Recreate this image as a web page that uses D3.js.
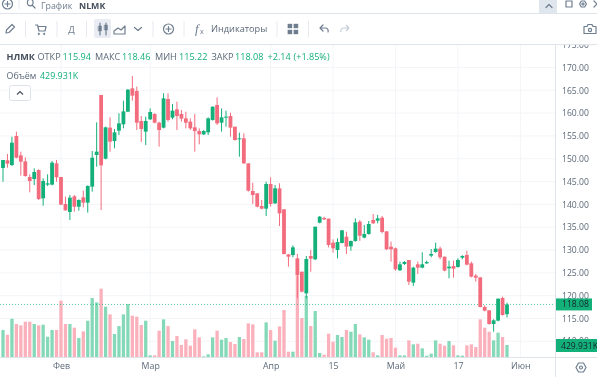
<!DOCTYPE html>
<html>
<head>
<meta charset="utf-8">
<script src="https://cdn.jsdelivr.net/npm/d3@7"></script>
<style>
html, body { margin: 0; padding: 0; background: #fff; overflow: hidden; }
svg { display: block; font-family: "Open Sans", sans-serif; filter: blur(0.35px); }
</style>
</head>
<body>
<div id="canvas"></div>
<script>
"use strict"

/*Size of the canvas*/
let svgWidth = 597;
let svgHeight = 377;

/*Where the panes are*/
let axisX = 555;
let toolbarBottom = 44;
let timeAxisY = 357;

/*Colours*/
let upColor = "#14b07a";
let downColor = "#f26c7e";
let upVolume = "#86d9b8";
let downVolume = "#fbb1bc";
let gridColor = "#f3f5f8";
let lineColor = "#dfe4ea";
let textColor = "#5b6878";
let iconColor = "#6f7e8f";

/*Candles, one value per trading day*/
let opens = [147.98, 149.66, 148.63, 154.99, 150.75, 149.44, 146.01, 145.57, 147.54, 141.33,
    144.33, 144.33, 149.00, 146.01, 140.09, 138.34, 141.77, 139.50, 141.55, 140.38,
    143.89, 150.83, 163.97, 150.02, 156.82, 153.89, 156.16, 157.55, 160.32, 165.43,
    164.85, 158.28, 155.94, 158.64, 159.81, 157.91, 156.82, 163.10, 159.01, 160.83,
    159.81, 158.86, 158.13, 156.89, 156.08, 155.35, 155.79, 158.50, 161.78, 157.91,
    159.01, 159.37, 157.03, 154.26, 154.48, 149.00, 142.94, 142.43, 139.65, 139.07,
    144.47, 140.24, 143.52, 138.92, 129.06, 128.91, 128.18, 125.26, 120.52, 128.70,
    127.97, 136.00, 137.02, 136.88, 131.62, 130.01, 131.54, 132.93, 130.81, 131.98,
    136.22, 132.72, 133.52, 136.59, 136.44, 137.10, 134.10, 130.74, 130.38, 125.56,
    126.95, 127.82, 122.86, 126.87, 126.14, 127.09, 128.77, 129.58, 130.31, 128.55,
    126.00, 126.51, 126.29, 128.33, 128.92, 127.09, 124.39, 124.02, 117.52, 116.79,
    113.80, 114.53, 119.50, 115.94];

let highs = [149.73, 151.05, 154.84, 155.94, 151.56, 150.31, 146.59, 147.90, 147.69, 145.71,
    146.59, 149.51, 149.73, 146.01, 141.70, 142.06, 142.06, 141.11, 143.01, 144.18,
    151.70, 157.98, 163.97, 157.03, 159.08, 156.52, 159.96, 162.73, 165.29, 168.14,
    165.80, 159.37, 159.23, 161.05, 159.96, 158.13, 164.34, 164.34, 162.00, 162.51,
    160.69, 160.32, 158.86, 159.81, 156.67, 156.30, 159.08, 161.42, 163.46, 161.05,
    160.54, 160.10, 157.03, 155.72, 155.57, 149.00, 144.76, 142.43, 140.97, 144.98,
    145.93, 144.25, 144.62, 138.92, 129.06, 131.03, 129.13, 125.26, 128.70, 130.01,
    135.12, 137.46, 137.31, 136.88, 132.35, 132.57, 134.39, 134.03, 132.06, 136.95,
    136.58, 135.49, 136.37, 137.90, 137.68, 137.46, 134.10, 131.84, 130.53, 127.46,
    127.60, 127.82, 126.36, 127.46, 129.50, 127.68, 130.23, 131.62, 130.74, 128.55,
    127.68, 127.68, 128.19, 128.85, 129.87, 127.46, 124.76, 124.02, 117.89, 116.79,
    114.82, 119.35, 119.79, 118.46];

let lows = [144.98, 148.05, 148.42, 150.10, 146.30, 146.08, 142.65, 144.25, 140.97, 139.72,
    144.03, 144.18, 144.98, 139.87, 138.63, 136.58, 138.41, 138.63, 139.36, 138.19,
    142.79, 148.27, 138.77, 149.88, 151.56, 152.29, 155.21, 156.67, 160.25, 162.73,
    156.30, 153.67, 153.02, 158.50, 157.76, 152.65, 156.67, 158.13, 158.64, 156.30,
    158.13, 156.67, 156.30, 151.56, 153.16, 155.21, 155.21, 158.35, 157.40, 155.94,
    157.03, 154.84, 153.97, 150.46, 148.85, 142.79, 140.09, 139.36, 138.92, 137.46,
    139.51, 140.09, 135.27, 129.06, 126.36, 128.40, 119.42, 120.73, 119.42, 125.26,
    127.82, 135.85, 136.58, 130.59, 129.43, 128.18, 131.47, 129.13, 129.86, 131.84,
    132.00, 132.57, 133.37, 135.71, 135.86, 133.67, 130.01, 127.46, 125.49, 125.41,
    126.73, 122.34, 122.13, 124.76, 126.00, 126.95, 128.41, 129.43, 127.97, 125.34,
    123.81, 123.95, 126.14, 127.97, 126.65, 124.02, 123.08, 117.45, 116.57, 113.65,
    112.12, 114.38, 115.63, 115.22];

let closes = [149.73, 148.93, 153.53, 150.24, 149.37, 146.22, 145.13, 147.10, 141.18, 145.13,
    144.62, 149.15, 145.93, 139.94, 138.70, 141.48, 139.50, 140.97, 140.38, 144.03,
    150.24, 151.56, 148.56, 156.89, 153.75, 155.79, 157.76, 160.39, 165.14, 163.83,
    157.91, 156.52, 158.28, 160.25, 157.91, 156.30, 163.24, 158.50, 160.54, 159.37,
    158.79, 157.91, 156.67, 156.08, 155.35, 156.08, 158.86, 161.42, 157.76, 159.08,
    159.23, 156.82, 154.11, 154.48, 149.00, 143.01, 142.06, 139.50, 139.07, 144.47,
    140.09, 143.52, 138.04, 129.13, 128.55, 130.59, 124.46, 120.88, 128.04, 128.11,
    135.12, 137.31, 136.73, 131.11, 130.38, 131.76, 134.32, 130.74, 131.98, 136.07,
    133.15, 133.52, 135.71, 135.86, 136.95, 133.96, 130.16, 130.16, 125.78, 126.87,
    127.38, 123.08, 126.14, 126.14, 126.87, 127.38, 129.14, 130.31, 128.41, 125.49,
    126.36, 125.92, 127.82, 128.70, 126.80, 124.17, 123.95, 117.52, 116.72, 113.80,
    114.60, 119.35, 115.77, 118.08];

/*Volume per day, in thousands*/
let volumes = [967, 800, 1373, 1182, 1134, 1266, 1266, 1182, 1134, 1158,
    728, 967, 967, 2018, 1182, 1182, 1051, 681, 919, 1301,
    2113, 1958, 2448, 1803, 1528, 824, 1110, 1528, 1898, 1481,
    1445, 1146, 1301, 60, 60, 943, 1349, 1110, 573, 752,
    430, 633, 406, 991, 704, 24, 96, 704, 943, 621,
    681, 537, 466, 716, 645, 1206, 1170, 167, 167, 1242,
    967, 585, 1098, 1684, 191, 191, 2902, 1397, 2186, 1110,
    1648, 143, 84, 836, 549, 788, 716, 967, 907, 1182,
    812, 704, 621, 167, 60, 788, 657, 681, 334, 60,
    60, 597, 454, 478, 310, 48, 119, 597, 478, 406,
    573, 418, 60, 48, 418, 454, 358, 1349, 1051, 907,
    597, 872, 716, 429.931];

/*Axis labels*/
let priceTicks = [115, 120, 125, 130, 135, 140, 145, 150, 155, 160, 165, 170, 175];
let gridPrices = [110, 115, 120, 125, 130, 135, 140, 145, 150, 155, 160, 165, 170, 175];
let timeTicks = [13, 33, 60, 74, 88, 102, 116];
let timeLabels = ["Фев", "Мар", "Апр", "15", "Май", "17", "Июн"];

/*The legend line at the top of the chart*/
let legendTexts = ["НЛМК", "ОТКР", "115.94", "МАКС", "118.46", "МИН", "115.22", "ЗАКР", "118.08", "+2.14", "(+1.85%)"];
let legendX = [6.5, 37.5, 62.5, 95, 122, 155, 179, 211.5, 235, 267.5, 293.5];

let lastIndex = opens.length - 1;

/*The canvas*/
let svg = d3.select("#canvas")
    .append("svg")
    .attr("width", svgWidth)
    .attr("height", svgHeight);

/*Scales*/
let xScale = d3.scaleLinear()
    .domain([0, lastIndex])
    .range([3, 507]);

let yScale = d3.scaleLinear()
    .domain([115, 170])
    .range([318.5, 67.5]);

let volumeScale = d3.scaleLinear()
    .domain([0, 3000])
    .range([timeAxisY, timeAxisY - 83.7]);

/*Grid*/
svg.append("g").selectAll("line")
    .data(gridPrices)
    .join("line")
    .attr("x1", 0)
    .attr("x2", axisX)
    .attr("y1", function (value) { return yScale(value); })
    .attr("y2", function (value) { return yScale(value); })
    .attr("stroke", gridColor);

svg.append("g").selectAll("line")
    .data(timeTicks)
    .join("line")
    .attr("x1", function (value) { return xScale(value); })
    .attr("x2", function (value) { return xScale(value); })
    .attr("y1", toolbarBottom)
    .attr("y2", timeAxisY)
    .attr("stroke", gridColor);

/*Volume bars*/
let barWidth = 3.3;
svg.append("g").selectAll("rect")
    .data(volumes)
    .join("rect")
    .attr("x", function (value, i) { return xScale(i) - barWidth / 2; })
    .attr("width", barWidth)
    .attr("y", function (value) { return volumeScale(value); })
    .attr("height", function (value) { return timeAxisY - volumeScale(value); })
    .attr("fill", function (value, i) {
        return closes[i] >= opens[i] ? upVolume : downVolume;
    });

/*Last price line*/
svg.append("line")
    .attr("x1", 0)
    .attr("x2", axisX)
    .attr("y1", yScale(closes[lastIndex]))
    .attr("y2", yScale(closes[lastIndex]))
    .attr("stroke", upColor)
    .attr("stroke-opacity", 0.7)
    .attr("stroke-dasharray", "1,2");

/*Candles*/
let candles = svg.append("g").selectAll("g")
    .data(opens)
    .join("g");

candles.append("line")
    .attr("x1", function (value, i) { return xScale(i); })
    .attr("x2", function (value, i) { return xScale(i); })
    .attr("y1", function (value, i) { return yScale(highs[i]); })
    .attr("y2", function (value, i) { return yScale(lows[i]); })
    .attr("stroke", function (value, i) {
        return closes[i] >= opens[i] ? upColor : downColor;
    })
    .attr("stroke-width", 1);

let candleWidth = 3.8;
candles.append("rect")
    .attr("x", function (value, i) { return xScale(i) - candleWidth / 2; })
    .attr("width", candleWidth)
    .attr("y", function (value, i) { return yScale(Math.max(opens[i], closes[i])); })
    .attr("height", function (value, i) {
        return Math.max(1, Math.abs(yScale(opens[i]) - yScale(closes[i])));
    })
    .attr("fill", function (value, i) {
        return closes[i] >= opens[i] ? upColor : downColor;
    });

/*Price axis with the white pane behind it*/
svg.append("rect")
    .attr("x", axisX)
    .attr("y", toolbarBottom)
    .attr("width", svgWidth - axisX)
    .attr("height", svgHeight - toolbarBottom)
    .attr("fill", "white");

let priceAxis = svg.append("g")
    .attr("transform", "translate(" + axisX + ",0)")
    .call(d3.axisRight(yScale).tickValues(priceTicks).tickSize(0).tickPadding(7).tickFormat(d3.format(".2f")));
priceAxis.select(".domain").remove();
priceAxis.selectAll("text")
    .style("font-family", "'Open Sans', sans-serif")
    .style("font-size", "8.6px")
    .attr("fill", textColor);

/*110.00 is mostly hidden by the volume tag*/
svg.append("text")
    .attr("x", 562)
    .attr("y", yScale(110) + 3)
    .style("font-size", "8.6px")
    .attr("fill", textColor)
    .text("110.00");

/*Tags for the last price and the last volume*/
svg.append("rect")
    .attr("x", axisX)
    .attr("y", yScale(closes[lastIndex]) - 6)
    .attr("width", 37)
    .attr("height", 12)
    .attr("fill", upColor);

svg.append("text")
    .attr("x", 562)
    .attr("y", yScale(closes[lastIndex]) + 3)
    .style("font-size", "8.6px")
    .attr("fill", "#14212b")
    .text(d3.format(".2f")(closes[lastIndex]));

svg.append("rect")
    .attr("x", axisX)
    .attr("y", 339)
    .attr("width", svgWidth - axisX)
    .attr("height", 13)
    .attr("fill", upColor);

svg.append("text")
    .attr("x", 561)
    .attr("y", 349)
    .style("font-size", "8.6px")
    .attr("fill", "#14212b")
    .text(volumes[lastIndex] + "K");

/*Time axis*/
svg.append("rect")
    .attr("x", 0)
    .attr("y", timeAxisY)
    .attr("width", svgWidth)
    .attr("height", svgHeight - timeAxisY)
    .attr("fill", "white");

let timeAxis = svg.append("g")
    .attr("transform", "translate(0," + timeAxisY + ")")
    .call(d3.axisBottom(xScale).tickValues(timeTicks).tickSize(0).tickPadding(6)
        .tickFormat(function (value, i) { return timeLabels[i]; }));
timeAxis.select(".domain").remove();
timeAxis.selectAll("text")
    .style("font-family", "'Open Sans', sans-serif")
    .style("font-size", "8.8px")
    .attr("fill", textColor);

svg.append("line")
    .attr("x1", 0)
    .attr("x2", svgWidth)
    .attr("y1", timeAxisY + 0.5)
    .attr("y2", timeAxisY + 0.5)
    .attr("stroke", lineColor);

svg.append("line")
    .attr("x1", axisX + 0.5)
    .attr("x2", axisX + 0.5)
    .attr("y1", toolbarBottom)
    .attr("y2", svgHeight)
    .attr("stroke", lineColor);

/*Legend*/
let legend = svg.append("g");
legend.selectAll("text")
    .data(legendTexts)
    .join("text")
    .attr("x", function (value, i) { return legendX[i]; })
    .attr("y", 60)
    .style("font-size", "9.1px")
    .style("font-weight", function (value, i) { return i == 0 ? "700" : "400"; })
    .attr("fill", function (value, i) {
        if (i == 0) {
            return "#46505e";
        }
        else if (i % 2 == 1 && i < 9) {
            return textColor;
        }
        return upColor;
    })
    .text(function (value) { return value; });

svg.append("text")
    .attr("x", 6.5)
    .attr("y", 78.5)
    .style("font-size", "8.9px")
    .attr("fill", textColor)
    .text("Объём");

svg.append("text")
    .attr("x", 40)
    .attr("y", 78.5)
    .style("font-size", "8.9px")
    .attr("fill", upColor)
    .text(volumes[lastIndex] + "K");

/*The small collapse button*/
svg.append("rect")
    .attr("x", 9.5)
    .attr("y", 85.5)
    .attr("width", 21)
    .attr("height", 15)
    .attr("rx", 2)
    .attr("fill", "white")
    .attr("stroke", "#dde2e8");

svg.append("path")
    .attr("d", "M17 94.5 L20 91.5 L23 94.5")
    .attr("fill", "none")
    .attr("stroke", "#46505e")
    .attr("stroke-width", 1.2);

/*Toolbar*/
svg.append("rect")
    .attr("width", svgWidth)
    .attr("height", toolbarBottom)
    .attr("fill", "white");

svg.append("rect")
    .attr("x", 94)
    .attr("y", 19)
    .attr("width", 17)
    .attr("height", 19)
    .attr("rx", 2)
    .attr("fill", "#e9edf3");

svg.append("rect")
    .attr("x", 539)
    .attr("y", 0)
    .attr("width", 18)
    .attr("height", 13)
    .attr("fill", "#dfe6ee");

let rules = [13.5, 44.5];
svg.append("g").selectAll("line")
    .data(rules)
    .join("line")
    .attr("x1", 0)
    .attr("x2", svgWidth)
    .attr("y1", function (value) { return value; })
    .attr("y2", function (value) { return value; })
    .attr("stroke", lineColor);

let separators = [25.5, 57, 86.5, 153, 184, 277, 308.5];
svg.append("g").selectAll("line")
    .data(separators)
    .join("line")
    .attr("x1", function (value) { return value; })
    .attr("x2", function (value) { return value; })
    .attr("y1", 21)
    .attr("y2", 37)
    .attr("stroke", "#e6eaef");

svg.append("line")
    .attr("x1", 19)
    .attr("x2", 19)
    .attr("y1", 0)
    .attr("y2", 9)
    .attr("stroke", "#e6eaef");

/*Icons, each one a path around its own centre*/
function drawIcon(x, y, path, filled) {
    svg.append("path")
        .attr("transform", "translate(" + x + "," + y + ")")
        .attr("d", path)
        .attr("fill", filled ? iconColor : "none")
        .attr("stroke", iconColor)
        .attr("stroke-width", filled ? 0.4 : 1.2)
        .attr("stroke-linecap", "round")
        .attr("stroke-linejoin", "round");
}

let circlePlus = "M-5 0 A5 5 0 1 0 5 0 A5 5 0 1 0 -5 0 M-2.5 0 H2.5 M0 -2.5 V2.5";
let chevronDown = "M-3.5 -1.5 L0 1.5 L3.5 -1.5";

drawIcon(7.5, 4, circlePlus, false);
drawIcon(31, 4, "M-3.5 -1.5 A2.8 2.8 0 1 0 2 -1.5 A2.8 2.8 0 1 0 -3.5 -1.5 M1 1 L4 4", false);
drawIcon(10, 29, "M-4 4 L-3.5 1 L2 -4.5 L4.5 -2 L-1 3.5 Z", false);
drawIcon(41, 29, "M-5.5 -4 H-3.5 L-2 2 H4 L5 -2.5 H-3", false);
drawIcon(41, 29, "M-2.2 4 A0.9 0.9 0 1 0 -2.19 4 M3.2 4 A0.9 0.9 0 1 0 3.21 4", true);
drawIcon(103, 29, "M-3 -6 V6 M3 -6 V6", false);
drawIcon(103, 29, "M-4.5 -3 H-1.5 V2 H-4.5 Z M1.5 -4 H4.5 V1 H1.5 Z", true);
drawIcon(120, 29, "M-6 5 V2 L-2 -1 L1 1 L5 -3 V5 Z", false);
drawIcon(138, 29, chevronDown, false);
drawIcon(168.5, 29, circlePlus, false);
drawIcon(293, 29, "M-5 -5 H-1 V-1 H-5 Z M1 -5 H5 V-1 H1 Z M-5 1 H-1 V5 H-5 Z M1 1 H5 V5 H1 Z", true);
drawIcon(324, 29, "M-4 -1 L-1 -4 M-4 -1 L-1 2 M-4 -1 H2 A3 3 0 0 1 4 3", false);
svg.append("path")
    .attr("transform", "translate(345,29)")
    .attr("d", "M4 -1 L1 -4 M4 -1 L1 2 M4 -1 H-2 A3 3 0 0 0 -4 3")
    .attr("fill", "none")
    .attr("stroke", "#c5ced8")
    .attr("stroke-width", 1.2);
drawIcon(590, 29, "M-6 -2.5 H-3 L-2 -4.5 H2 L3 -2.5 H6 V4.5 H-6 Z M-1.6 1 A1.6 1.6 0 1 0 1.6 1 A1.6 1.6 0 1 0 -1.6 1", false);
drawIcon(549, 6, "M-3 1.5 L0 -1.5 L3 1.5", false);
drawIcon(569, 4, "M-3 -3 H3 V3 H-3 Z", false);
drawIcon(583, 4, "M-3.4 0 L-1.7 -3 H1.7 L3.4 0 L1.7 3 H-1.7 Z M-1 0 A1 1 0 1 0 1 0 A1 1 0 1 0 -1 0", false);
drawIcon(597, 4, "M-3 -3 L3 3 M-3 3 L3 -3", false);
drawIcon(581, 367.5, "M-5 0 L-2.5 -4.5 H2.5 L5 0 L2.5 4.5 H-2.5 Z M-1.5 0 A1.5 1.5 0 1 0 1.5 0 A1.5 1.5 0 1 0 -1.5 0", false);

/*Toolbar texts*/
svg.append("text")
    .attr("x", 41)
    .attr("y", 8.8)
    .style("font-size", "8.8px")
    .attr("fill", iconColor)
    .text("График");

svg.append("text")
    .attr("x", 79)
    .attr("y", 8.8)
    .style("font-size", "8.8px")
    .style("font-weight", "700")
    .attr("fill", "#46505e")
    .text("NLMK");

svg.append("text")
    .attr("x", 71.5)
    .attr("y", 32.5)
    .style("font-size", "9.5px")
    .style("text-anchor", "middle")
    .attr("fill", iconColor)
    .text("Д");

svg.append("text")
    .attr("x", 195)
    .attr("y", 33)
    .style("font-family", "'Liberation Serif', serif")
    .style("font-size", "13px")
    .style("font-style", "italic")
    .attr("fill", iconColor)
    .text("f");

svg.append("text")
    .attr("x", 200)
    .attr("y", 34)
    .style("font-size", "7px")
    .attr("fill", iconColor)
    .text("x");

svg.append("text")
    .attr("x", 211)
    .attr("y", 32.2)
    .style("font-size", "9.2px")
    .attr("fill", textColor)
    .text("Индикаторы");
</script>
</body>
</html>
